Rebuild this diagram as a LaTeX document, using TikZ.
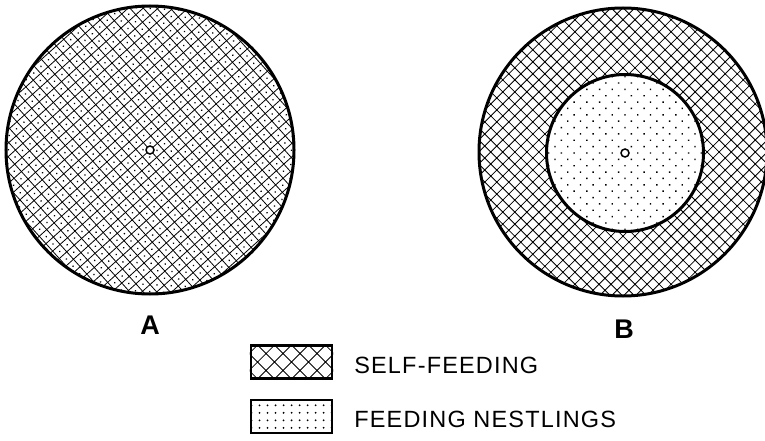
\documentclass[tikz,border=0pt]{standalone}
\usepackage{fontspec}
\setmainfont{Liberation Sans}
\usepackage{tikz}
\usetikzlibrary{backgrounds}
\tikzset{
  rim/.style={line width=3pt},
  hatch/.style={line width=0.8pt},
  speck/.style={fill=black},
  nest/.style={line width=1.5pt, fill=white},
  keybox/.style={rectangle, draw, line width=2.2pt, minimum width=81pt,
    minimum height=33pt, inner sep=0pt},
  keytext/.style={anchor=west, inner sep=0pt,
    font=\fontsize{23.5}{27}\selectfont\addfontfeature{LetterSpace=5}},
  tag/.style={inner sep=0pt, font=\fontsize{27}{31}\selectfont\bfseries},
}

\begin{document}
\begin{tikzpicture}[x=1pt, y=-1pt]
\useasboundingbox (0,0) rectangle (765,441);

\def\rOut{144pt}  % outer circles
\def\rIn{78.5pt}  % inner circle of B

\coordinate (cA) at (150,150);
\coordinate (cB) at (623,152);
\coordinate (cBin) at (625,153);

% ── A: whole range, hatch + dots ───────────────────────────────────────────
\begin{scope}
  \clip (cA) circle (\rOut);
  \begin{scope}[shift={(cA)}, rotate=42]
    \foreach \k in {-15,...,15}{
      \draw[hatch] (\k*10,-160) -- (\k*10,160);
      \draw[hatch] (-160,\k*10) -- (160,\k*10);
    }
    \foreach \i in {-15,...,14}
      \foreach \j in {-15,...,14}
        \fill[speck] (\i*10+5,\j*10+5) circle (0.9pt);
  \end{scope}
\end{scope}
\draw[rim] (cA) circle (\rOut);
\draw[nest] (cA) circle (4pt);

% ── B: hatched ring, dotted core ───────────────────────────────────────────
\begin{scope}
  \clip (cB) circle (\rOut);
  \begin{scope}[shift={(cB)}, rotate=45]
    \foreach \k in {-18,...,18}{
      \draw[hatch] (\k*8.5,-160) -- (\k*8.5,160);
      \draw[hatch] (-160,\k*8.5) -- (160,\k*8.5);
    }
    \foreach \i in {-18,...,18}
      \foreach \j in {-18,...,18}
        \fill[speck] (\i*8.5,\j*8.5) circle (0.9pt);
  \end{scope}
\end{scope}
\fill[white] (cBin) circle (\rIn);
\begin{scope}
  \clip (cBin) circle (\rIn);
  \begin{scope}[shift={(cBin)}, rotate=45]
    \foreach \i in {-9,...,9}
      \foreach \j in {-9,...,9}
        \fill[speck] (\i*9,\j*9) circle (1pt);
  \end{scope}
\end{scope}
\draw[rim] (cB) circle (\rOut);
\draw[rim] (cBin) circle (\rIn);
\draw[nest] (cBin) circle (4pt);

% ── labels ─────────────────────────────────────────────────────────────────
\node[tag] (tagA) at (150,325) {A};
\node[tag] (tagB) at (624,329) {B};

% ── key ────────────────────────────────────────────────────────────────────
\node[keybox] (keySelf) at (291.5,362) {};
\node[keybox] (keyNest) at (291.5,416.5) {};
\begin{scope}[on background layer]
  \begin{scope}
    \clip (keySelf.south west) rectangle (keySelf.north east);
    \begin{scope}[shift={(keySelf.center)}, rotate=45]
      \foreach \k in {-6,...,6}{
        \draw[hatch] (\k*12,-70) -- (\k*12,70);
        \draw[hatch] (-70,\k*12) -- (70,\k*12);
      }
      \foreach \i in {-6,...,6}
        \foreach \j in {-6,...,6}
          \fill[speck] (\i*12,\j*12) circle (1pt);
    \end{scope}
  \end{scope}
  \begin{scope}
    \clip (keyNest.south west) rectangle (keyNest.north east);
    \foreach \i in {-5,...,5}
      \foreach \j in {-1.5,-0.5,0.5,1.5}
        \fill[speck] ([shift={(\i*8,\j*7.5)}]keyNest.center) circle (1pt);
  \end{scope}
\end{scope}

\node[keytext] (txtSelf) at ([xshift=21pt, yshift=-3pt]keySelf.east) {SELF-FEEDING};
\node[keytext] (txtNest) at ([xshift=21pt, yshift=-3pt]keyNest.east) {FEEDING NESTLINGS};

\end{tikzpicture}
\end{document}
